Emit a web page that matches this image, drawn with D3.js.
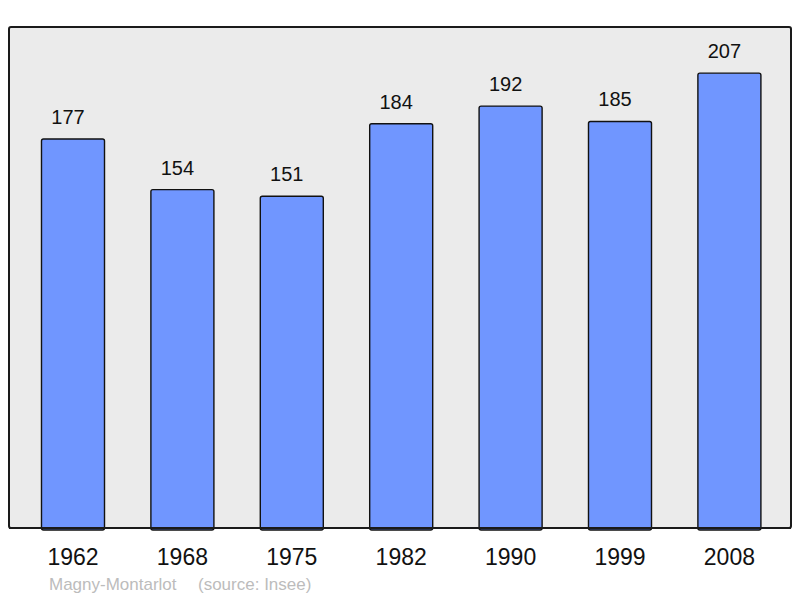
<!DOCTYPE html>
<html>
<head>
<meta charset="utf-8">
<script src="https://cdn.jsdelivr.net/npm/d3@7"></script>
<style>
  body { margin: 0; background: #fff; }
  text { font-family: "Liberation Sans", Arial, sans-serif; }
</style>
</head>
<body>
<svg id="chart"></svg>
<script>
const years = ['1962', '1968', '1975', '1982', '1990', '1999', '2008'];
const population = [177, 154, 151, 184, 192, 185, 207];
const town = 'Magny-Montarlot';
const source = '(source: Insee)';

const width = 800, height = 598;
const frame = { left: 9, top: 27, right: 791, bottom: 528 };

const svg = d3.select('#chart')
    .attr('width', width)
    .attr('height', height);

svg.append('rect')
    .attr('x', frame.left)
    .attr('y', frame.top)
    .attr('width', frame.right - frame.left)
    .attr('height', frame.bottom - frame.top)
    .attr('rx', 2)
    .attr('fill', '#ebebeb')
    .attr('stroke', '#1a1a1a')
    .attr('stroke-width', 2);

const xScale = d3.scaleBand()
    .domain(years)
    .range([18.3, 784.1])
    .paddingInner(0.424)
    .paddingOuter(0.212);

const yScale = d3.scaleLinear()
    .domain([0, 228])
    .range([frame.bottom, frame.top]);

const data = years.map((y, i) => ({ year: y, value: population[i] }));

svg.selectAll('.bar')
    .data(data)
    .join('rect')
    .attr('class', 'bar')
    .attr('x', d => xScale(d.year))
    .attr('y', d => yScale(d.value))
    .attr('width', xScale.bandwidth())
    .attr('height', d => frame.bottom - yScale(d.value) + 2)
    .attr('rx', 2)
    .attr('fill', '#7096ff')
    .attr('stroke', '#111')
    .attr('stroke-width', 1.4);

// redraw frame bottom edge over bars
svg.append('line')
    .attr('x1', frame.left)
    .attr('x2', frame.right)
    .attr('y1', frame.bottom)
    .attr('y2', frame.bottom)
    .attr('stroke', '#1a1a1a')
    .attr('stroke-width', 2);

svg.selectAll('.value')
    .data(data)
    .join('text')
    .attr('class', 'value')
    .attr('x', d => xScale(d.year) + xScale.bandwidth() / 2 - 5)
    .attr('y', d => yScale(d.value) - 15)
    .attr('text-anchor', 'middle')
    .attr('font-size', 20)
    .attr('fill', '#111')
    .text(d => d.value);

const xAxis = d3.axisBottom(xScale).tickSize(0).tickPadding(0);
svg.append('g')
    .attr('transform', `translate(0,${frame.bottom})`)
    .call(xAxis)
    .call(g => g.select('.domain').remove())
    .call(g => g.selectAll('text')
        .attr('dy', null)
        .attr('y', 37)
        .attr('font-size', 23)
        .attr('font-family', '"Liberation Sans", Arial, sans-serif')
        .attr('fill', '#111'));

svg.append('text')
    .attr('x', 49)
    .attr('y', 590)
    .attr('font-size', 17)
    .attr('fill', '#bcbcbc')
    .text(town);

svg.append('text')
    .attr('x', 198)
    .attr('y', 590)
    .attr('font-size', 17)
    .attr('fill', '#bcbcbc')
    .text(source);
</script>
</body>
</html>
